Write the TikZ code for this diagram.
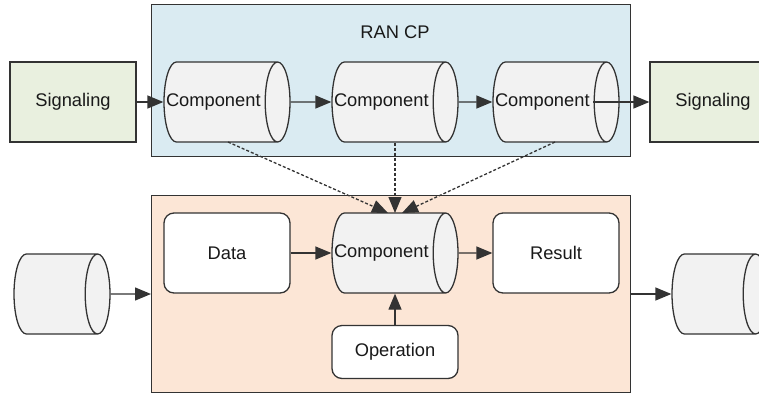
\documentclass[tikz,border=0pt]{standalone}
\usepackage{fontspec}
\setmainfont{Liberation Sans}
\usetikzlibrary{shapes.geometric,arrows.meta}
\definecolor{ranblue}{HTML}{DAEBF2}
\definecolor{procorange}{HTML}{FCE6D6}
\definecolor{siggreen}{HTML}{E9F0DF}
\definecolor{compgray}{HTML}{F2F2F2}
\definecolor{edge}{HTML}{333333}
\begin{document}
\begin{tikzpicture}[x=1pt, y=-1pt, line width=1.3pt,
    every node/.style={font=\fontsize{18.3}{22}\selectfont, text=black!90},
    frame/.style={draw=edge, minimum width=479pt, anchor=north west},
    sigbox/.style={draw=edge, fill=siggreen, minimum width=126pt, minimum height=80pt},
    comp/.style={cylinder, draw=edge, fill=compgray, aspect=0.31, inner xsep=0pt, inner ysep=40pt,
        minimum height=126pt, anchor=shape center},
    named/.style={comp, label={[inner sep=2pt, anchor=west]west:#1}},
    store/.style={comp, minimum height=96pt},
    roundbox/.style={draw=edge, fill=white, rounded corners=10pt, minimum width=126pt},
    flow/.style={draw=edge, -{Triangle[length=16pt, width=13pt]}},
    feed/.style={flow, dash pattern=on 3pt off 2pt}]
    \useasboundingbox (0,0) rectangle (759,394);
    \node[frame, fill=ranblue, minimum height=152pt] (ran) at (151,4) {};
    \node at (395,32) {RAN CP};
    \node[frame, fill=procorange, minimum height=197pt] (proc) at (151,195) {};
    \node[sigbox] (sigin) at (73,102) {Signaling};
    \node[sigbox] (sigout) at (713,102) {Signaling};
    \node[named=Component] (c1) at (227,102) {};
    \node[named=Component] (c2) at (395,102) {};
    \node[named=Component] (c3) at (556,102) {};
    \node[roundbox, minimum height=80pt] (data) at (227,253) {Data};
    \node[named=Component] (core) at (395,253) {};
    \node[roundbox, minimum height=80pt] (result) at (556,253) {Result};
    \node[roundbox, minimum height=53pt] (op) at (395,352) {Operation};
    \node[store] (src) at (62,294) {};
    \node[store] (dst) at (720,294) {};
    \coordinate (t1) at (388,213);
    \coordinate (t2) at (395,213);
    \coordinate (t3) at (402,213);
    \draw[flow] (sigin) -- (c1);
    \draw[flow] (c1) -- (c2);
    \draw[flow] (c2) -- (c3);
    \draw[flow] ([xshift=37pt]c3.shape center) -- (sigout);
    \draw[flow] (data) -- (core);
    \draw[flow] (core) -- (result);
    \draw[flow] (op.north) -- (op.north |- core.south);
    \draw[flow] (src) -- (src -| proc.west);
    \draw[flow] (dst -| proc.east) -- (dst);
    \draw[feed] (228,142) -- (t1);
    \draw[feed] (t2 |- c2.south) -- (t2);
    \draw[feed] (555,142) -- (t3);
\end{tikzpicture}
\end{document}
